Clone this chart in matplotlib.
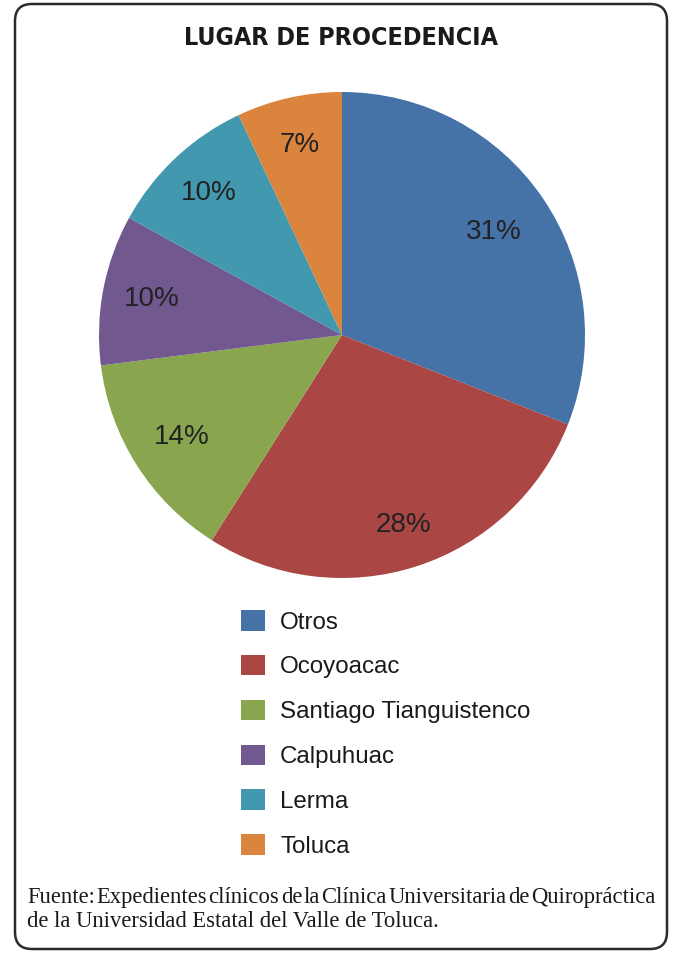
import numpy as np
import matplotlib
matplotlib.use("Agg")
import matplotlib.pyplot as plt
from matplotlib.patches import FancyBboxPatch, Patch

categories = ["Otros", "Ocoyoacac", "Santiago Tianguistenco", "Calpuhuac", "Lerma", "Toluca"]
values = [31, 28, 14, 10, 10, 7]
colors = ["#4572A7", "#AA4643", "#89A54E", "#71588F", "#4198AF", "#DB843D"]
title = "LUGAR DE PROCEDENCIA"
source_lines = ["Fuente: Expedientes clínicos de la Clínica Universitaria de Quiropráctica",
                "de la Universidad Estatal del Valle de Toluca."]

# label distance from centre (fraction of radius), per slice
label_dist = [0.755, 0.82, 0.78, 0.795, 0.80, 0.80]

W, H = 675, 956
fig = plt.figure(figsize=(W / 100, H / 100), dpi=100)
fig.patch.set_facecolor("white")

# rounded frame
frame = FancyBboxPatch((15 / W, 7 / H), 652 / W, 945 / H,
                       boxstyle="round,pad=0,rounding_size=0.025",
                       transform=fig.transFigure, facecolor="none",
                       edgecolor="#2b2b2b", linewidth=1.8, mutation_aspect=W / H)
fig.add_artist(frame)

# pie
cx, cy, r = 342, 335, 243
ax = fig.add_axes([(cx - r) / W, 1 - (cy + r) / H, 2 * r / W, 2 * r / H])
wedges, texts = ax.pie(values, colors=colors, startangle=90, counterclock=False,
                       radius=1, wedgeprops=dict(linewidth=0))
total = sum(values)
for w, v, d in zip(wedges, values, label_dist):
    ang = np.deg2rad((w.theta1 + w.theta2) / 2)
    ax.text(d * np.cos(ang), d * np.sin(ang), f"{100 * v / total:.0f}%",
            ha="center", va="center", fontsize=20, fontfamily="Liberation Sans",
            color="#222222")
ax.set_xlim(-1, 1)
ax.set_ylim(-1, 1)
ax.set_aspect("equal")
ax.axis("off")

fig.text(341 / W, 1 - 38 / H, title, ha="center", va="center",
         fontsize=18, fontweight="bold", fontfamily="DejaVu Sans",
         fontstretch="condensed", color="#1a1a1a")

handles = [Patch(facecolor=c, edgecolor="none") for c in colors]
leg = fig.legend(handles, categories, loc="upper left",
                 bbox_to_anchor=(241 / W, 1 - 610 / H), frameon=False,
                 prop=dict(family="Liberation Sans", size=17.4),
                 handlelength=1.0, handleheight=0.93, handletextpad=0.62,
                 labelspacing=0.88, borderpad=0, borderaxespad=0)
for t in leg.get_texts():
    t.set_color("#1a1a1a")

# source note: first line justified between x=27 and x=655, second line left-aligned
fig.canvas.draw()
renderer = fig.canvas.get_renderer()
x0, x1 = 27, 655
ys = [903, 927]
fs = 16.3
words = source_lines[0].split(" ")
objs = []
widths = []
for w_ in words:
    t = fig.text(0, 1 - ys[0] / H, w_, ha="left", va="baseline", fontsize=fs,
                 fontfamily="Liberation Serif", color="#1a1a1a")
    objs.append(t)
    widths.append(t.get_window_extent(renderer).width)
gap = (x1 - x0 - sum(widths)) / (len(words) - 1)
x = x0
for t, wd in zip(objs, widths):
    t.set_x(x / W)
    x += wd + gap
fig.text(x0 / W, 1 - ys[1] / H, source_lines[1], ha="left", va="baseline", fontsize=fs,
         fontfamily="Liberation Serif", color="#1a1a1a")

fig.savefig("out.png", dpi=100)
